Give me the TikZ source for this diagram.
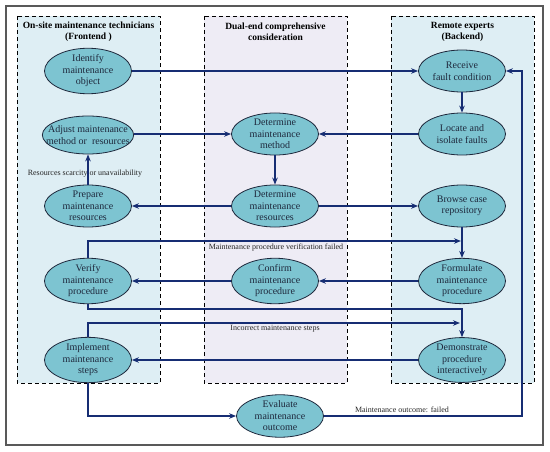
\documentclass[tikz,border=0pt]{standalone}
\usepackage{fontspec}
\setmainfont{Liberation Serif}
\usetikzlibrary{arrows.meta,shapes.geometric}

\definecolor{taskfill}{RGB}{125,196,209}
\definecolor{taskline}{RGB}{30,40,60}
\definecolor{flow}{RGB}{22,45,115}
\definecolor{sidefill}{RGB}{222,238,244}
\definecolor{midfill}{RGB}{238,236,245}

\tikzset{
  task/.style = {ellipse, draw = taskline, fill = taskfill, line width = 0.8pt,
                 minimum width = 87pt, minimum height = 42pt, inner sep = 0pt,
                 align = center, text = taskline, font = \fontsize{10}{11.5}\selectfont},
  panel/.style = {draw = black, dashed, dash pattern = on 4pt off 3pt, line width = 0.9pt},
  flowline/.style = {draw = flow, line width = 1.2pt, -{Stealth[length = 7pt, width = 5.5pt]}},
  note/.style = {font = \fontsize{8}{9}\selectfont, text = black!85},
  head/.style = {font = \fontsize{9.5}{11}\selectfont\bfseries, align = center}
}

\begin{document}
\begin{tikzpicture}[x = 1pt, y = -1pt]
\useasboundingbox (0,0) rectangle (550,452);
\draw[black!65, line width = 1.2pt] (6,6) rectangle (543,445);

\foreach \xa/\xb/\col in {17/160/sidefill, 204/347/midfill, 391/534/sidefill}
   \draw[panel, fill = \col] (\xa,16) rectangle (\xb,383);

\node[head] (fronthead) at (88.5,32) {On-site maintenance technicians\\(Frontend )};
\node[head] (dualhead)  at (275.5,32) {Dual-end comprehensive\\consideration};
\node[head] (backhead)  at (462.5,32) {Remote experts\\(Backend)};

\node[task] (identify)  at (88,71)  {Identify\\maintenance\\object};
\node[task, inner xsep = -9.5pt, minimum height = 38pt] (adjust) at (88,135) {Adjust maintenance\\method or~~resources};
\node[task] (prepare)   at (88,206) {Prepare\\maintenance\\resources};
\node[task] (verify)    at (88,281) {Verify\\maintenance\\procedure};
\node[task] (implement) at (88,360) {Implement\\maintenance\\steps};

\node[task] (detmethod) at (275,134) {Determine\\maintenance\\method};
\node[task] (detres)    at (275,206) {Determine\\maintenance\\resources};
\node[task] (confirm)   at (275,281) {Confirm\\maintenance\\procedure};
\node[task] (evaluate)  at (280,416) {Evaluate\\maintenance\\outcome};

\node[task] (receive)   at (462,71)  {Receive\\fault condition};
\node[task] (locate)    at (462,134) {Locate and\\isolate faults};
\node[task] (browse)    at (462,206) {Browse case\\repository};
\node[task] (formulate) at (462,281) {Formulate\\maintenance\\procedure};
\node[task] (demo)      at (462,360) {Demonstrate\\procedure\\interactively};

\coordinate (verifyfail) at (461,241);
\coordinate (verifyturn) at (88,309);
\coordinate (stepsfail)  at (460,323);
\coordinate (outcometurn) at (522,416);

\draw[flowline] (identify) -- (receive);
\draw[flowline] (receive) -- (locate);
\draw[flowline] (adjust.east |- detmethod) -- (detmethod);
\draw[flowline] (locate) -- (detmethod);
\draw[flowline] (detmethod) -- (detres);
\draw[flowline] (prepare) -- (adjust);
\draw[flowline] (detres) -- (prepare);
\draw[flowline] (detres) -- (browse);
\draw[flowline] (browse) -- (formulate);
\draw[flowline] (verify.north) |- (verifyfail);
\draw[flowline] (formulate) -- (confirm);
\draw[flowline] (confirm) -- (verify);
\draw[flowline] (verify.south) -- (verifyturn) -| (demo.north);
\draw[flowline] (implement.north) |- (stepsfail);
\draw[flowline] (demo) -- (implement);
\draw[flowline] (implement.south) |- (evaluate.west);
\draw[flowline] (evaluate.east) -- (outcometurn) |- (receive.east);

\node[note] (scarcity)   at (85,174)  {Resources scarcity or unavailability};
\node[note] (verifynote) at (276,248) {Maintenance procedure verification failed};
\node[note] (stepsnote)  at (275,329) {Incorrect maintenance steps};
\node[note] (outcomenote) at (402,410) {Maintenance outcome: failed};
\end{tikzpicture}
\end{document}
